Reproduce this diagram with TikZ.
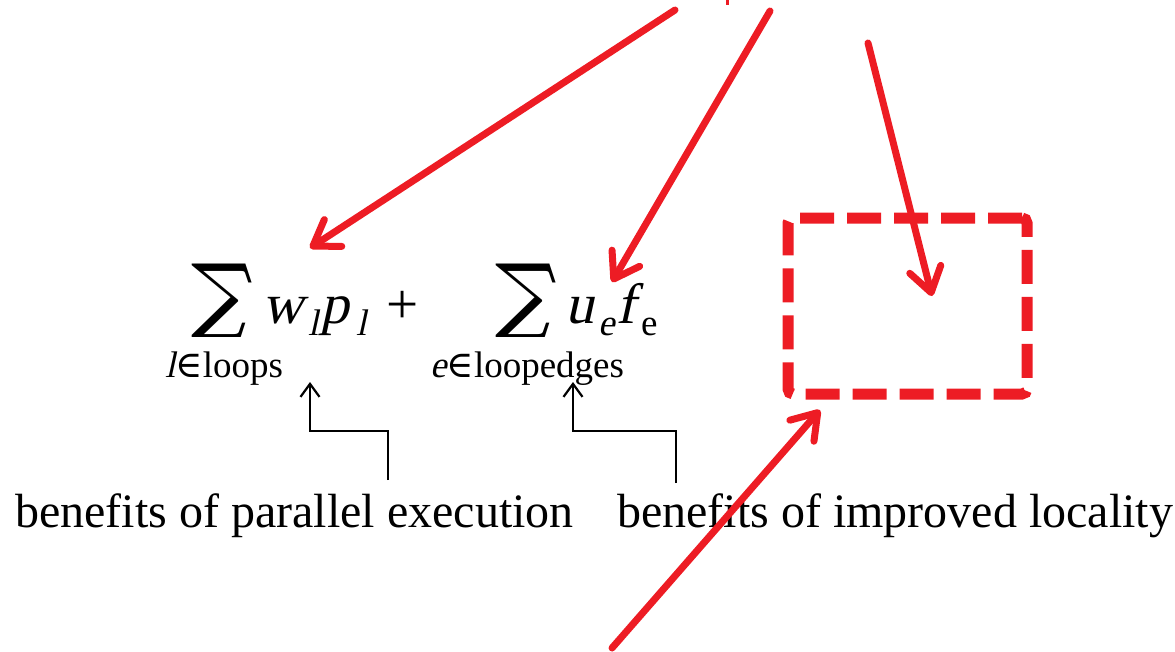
\documentclass[tikz,border=0pt]{standalone}
\usepackage{fontspec}
\setmainfont{Liberation Serif}
\newfontfamily\symfont{DejaVu Serif}
\newfontfamily\slantvar{Liberation Serif}[FakeSlant=0.22]
\usetikzlibrary{arrows.meta}
\definecolor{pptred}{RGB}{237,28,36}
\begin{document}
\begin{tikzpicture}[x=1pt,y=-1pt,
  redarrow/.style={draw=pptred,line width=7pt,line cap=round,
    -{Straight Barb[length=24pt,width=32pt,line cap=round,line join=round]}},
  callout/.style={draw=black,line width=2.2pt,-{Straight Barb[length=13pt,width=19pt]}},
  dashbox/.style={draw=pptred,line width=11pt,dash pattern=on 34pt off 13pt,rounded corners=5pt,
    minimum width=239pt,minimum height=176pt,inner sep=0pt},
  lbl/.style={inner sep=0pt,anchor=base west,font=\fontsize{48}{58}\selectfont},
  eqv/.style={inner sep=0pt,anchor=base west,font=\fontsize{57}{60}\selectfont},
  subv/.style={inner sep=0pt,anchor=base west,font=\fontsize{37}{40}\selectfont},
  sumsym/.style={inner sep=0pt,font=\fontsize{72}{72}\symfont,xscale=1.2,yscale=-1.12,transform shape}]
\useasboundingbox (0,0) rectangle (1175,651);
% equation
\node[sumsym] (S1) at (222,301) {∑};
\node[eqv] (w) at (262,323) {\slantvar w};
\node[subv] (wl) at (308,335) {\slantvar l};
\node[eqv] (p) at (320,323) {\slantvar p};
\node[subv] (pl) at (356,335) {\slantvar l};
\node[eqv] (plus) at (386,323) {+};
\node[sumsym] (S2) at (526,301) {∑};
\node[eqv] (u) at (565,323) {\slantvar u};
\node[subv] (ue) at (598,335) {\slantvar e};
\node[eqv] (f) at (616,323) {\slantvar f};
\node[subv] (fe) at (641,335) {e};
\node[subv] (lim1) at (165,377) {{\slantvar l}{\symfont ∈}loops};
\node[subv] (lim2) at (430,377) {{\slantvar e}{\symfont ∈}loopedges};
% labels
\node[lbl] (lab1) at (15,527) {benefits of parallel execution};
\node[lbl] (lab2) at (617,527) {benefits of improved locality};
% callouts
\coordinate (c1a) at (388,480);
\coordinate (c1b) at (310,382);
\coordinate (c2a) at (676,483);
\coordinate (c2b) at (573,382);
\draw[callout] (c1a) -- (388,431) -| (c1b);
\draw[callout] (c2a) -- (676,431) -| (c2b);
% dashed box
\node[dashbox] (box) at (907.5,306) {};
% red arrows
\coordinate (r1s) at (675,10);
\coordinate (r1e) at (310,248);
\coordinate (r2s) at (770,11);
\coordinate (r2e) at (612,282);
\coordinate (r3s) at (868,43);
\coordinate (r3e) at (932,296);
\coordinate (r4s) at (612,648);
\coordinate (r4e) at (820,410);
\draw[redarrow] (r1s) -- (r1e);
\draw[redarrow] (r2s) -- (r2e);
\draw[redarrow] (r3s) -- (r3e);
\draw[redarrow] (r4s) -- (r4e);
\fill[pptred] (726,0) rectangle (729,5);
\end{tikzpicture}
\end{document}
